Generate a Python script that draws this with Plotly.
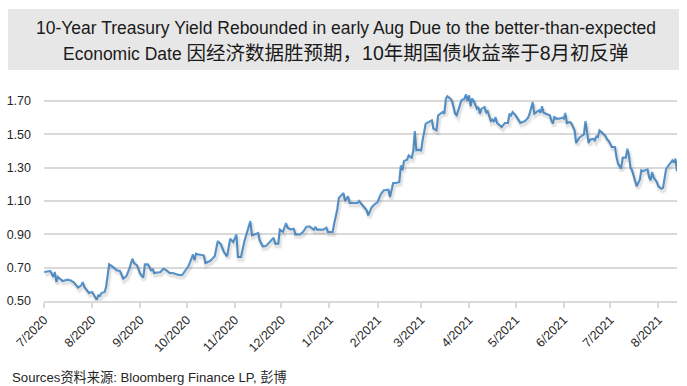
import plotly.graph_objects as go
import datetime as dt

# ---- data ----
dates = [
"2020-07-01","2020-07-05","2020-07-06","2020-07-07","2020-07-08","2020-07-09","2020-07-10","2020-07-12","2020-07-13","2020-07-16","2020-07-18","2020-07-20","2020-07-22","2020-07-23","2020-07-25","2020-07-26","2020-07-27","2020-07-30",
"2020-08-01","2020-08-02","2020-08-04","2020-08-05","2020-08-06","2020-08-07","2020-08-09","2020-08-10","2020-08-12","2020-08-14","2020-08-17","2020-08-19","2020-08-21","2020-08-23","2020-08-25","2020-08-27","2020-08-28","2020-08-30",
"2020-09-01","2020-09-03","2020-09-04","2020-09-06","2020-09-08","2020-09-09","2020-09-10","2020-09-14","2020-09-16","2020-09-18","2020-09-20","2020-09-22","2020-09-24","2020-09-26","2020-09-28","2020-09-30",
"2020-10-02","2020-10-04","2020-10-05","2020-10-06","2020-10-07","2020-10-08","2020-10-12","2020-10-13","2020-10-16","2020-10-19","2020-10-21","2020-10-23","2020-10-25","2020-10-27","2020-10-29","2020-10-31",
"2020-11-02","2020-11-03","2020-11-05","2020-11-07","2020-11-09","2020-11-11","2020-11-12","2020-11-14","2020-11-16","2020-11-17","2020-11-19","2020-11-21","2020-11-24","2020-11-26","2020-11-27","2020-11-29","2020-11-30",
"2020-12-02","2020-12-04","2020-12-05","2020-12-07","2020-12-09","2020-12-10","2020-12-13","2020-12-15","2020-12-17","2020-12-19","2020-12-21","2020-12-22","2020-12-23","2020-12-24","2020-12-28","2020-12-30","2020-12-31",
"2021-01-03","2021-01-04","2021-01-06","2021-01-07","2021-01-10","2021-01-11","2021-01-13","2021-01-14","2021-01-16","2021-01-19","2021-01-20","2021-01-22","2021-01-25","2021-01-26","2021-01-28","2021-01-30",
"2021-02-01","2021-02-03","2021-02-05","2021-02-08","2021-02-09","2021-02-11","2021-02-13","2021-02-15","2021-02-16","2021-02-17","2021-02-18","2021-02-20","2021-02-21","2021-02-23","2021-02-24","2021-02-25","2021-02-26","2021-02-28",
"2021-03-01","2021-03-02","2021-03-04","2021-03-06","2021-03-08","2021-03-09","2021-03-11","2021-03-12","2021-03-14","2021-03-15","2021-03-16","2021-03-17","2021-03-18","2021-03-20","2021-03-21","2021-03-23","2021-03-24","2021-03-25","2021-03-26","2021-03-27","2021-03-29","2021-03-30","2021-03-31",
"2021-04-01","2021-04-02","2021-04-03","2021-04-04","2021-04-05","2021-04-06","2021-04-07","2021-04-08","2021-04-09","2021-04-11","2021-04-12","2021-04-13","2021-04-15","2021-04-16","2021-04-17","2021-04-18","2021-04-19","2021-04-22","2021-04-24","2021-04-26","2021-04-27","2021-04-28","2021-04-29",
"2021-05-01","2021-05-03","2021-05-04","2021-05-07","2021-05-09","2021-05-10","2021-05-12","2021-05-13","2021-05-14","2021-05-16","2021-05-17","2021-05-18","2021-05-19","2021-05-21","2021-05-23","2021-05-24","2021-05-25","2021-05-26","2021-05-27","2021-05-29","2021-05-31",
"2021-06-01","2021-06-02","2021-06-03","2021-06-05","2021-06-06","2021-06-08","2021-06-09","2021-06-10","2021-06-11","2021-06-13","2021-06-14","2021-06-15","2021-06-16","2021-06-17","2021-06-18","2021-06-20","2021-06-21","2021-06-22","2021-06-23","2021-06-24","2021-06-26","2021-06-28","2021-06-29","2021-06-30",
"2021-07-02","2021-07-04","2021-07-05","2021-07-06","2021-07-08","2021-07-09","2021-07-11","2021-07-12","2021-07-13","2021-07-14","2021-07-15","2021-07-17","2021-07-18","2021-07-20","2021-07-21","2021-07-22","2021-07-24","2021-07-25","2021-07-26","2021-07-27","2021-07-28","2021-07-29","2021-07-31",
"2021-08-01","2021-08-03","2021-08-04","2021-08-06","2021-08-08","2021-08-10","2021-08-11","2021-08-12","2021-08-13",
]

yields = [
# Jul 2020
0.674,0.68,0.664,0.644,0.674,0.614,0.644,0.628,0.62,0.628,0.624,0.614,0.594,0.58,0.594,0.614,0.584,0.548,
# Aug 2020
0.554,0.54,0.508,0.534,0.53,0.548,0.554,0.584,0.72,0.708,0.684,0.68,0.634,0.648,0.694,0.754,0.728,0.714,
# Sep 2020
0.664,0.64,0.72,0.72,0.684,0.69,0.668,0.674,0.694,0.684,0.668,0.668,0.66,0.656,0.656,0.684,
# Oct 2020
0.708,0.754,0.78,0.744,0.784,0.78,0.774,0.728,0.74,0.768,0.86,0.84,0.794,0.768,0.874,0.854,
# Nov 2020
0.9,0.764,0.764,0.854,0.924,0.98,0.894,0.9,0.908,0.864,0.828,0.83,0.864,0.88,0.844,0.844,0.928,
# Dec 2020
0.915,0.968,0.94,0.93,0.934,0.9,0.9,0.915,0.944,0.948,0.935,0.928,0.945,0.928,0.928,0.94,0.914,
# Jan 2021
0.914,0.964,1.048,1.118,1.148,1.10,1.128,1.088,1.088,1.088,1.10,1.08,1.044,1.014,1.06,1.08,
# Feb 2021
1.094,1.14,1.164,1.168,1.124,1.208,1.208,1.214,1.314,1.284,1.34,1.348,1.374,1.36,1.40,1.52,1.404,1.408,
# Mar 2021
1.40,1.464,1.564,1.574,1.584,1.534,1.524,1.614,1.624,1.634,1.624,1.714,1.728,1.714,1.70,1.624,1.614,1.644,1.674,1.704,1.714,1.74,1.70,
# Apr 2021
1.734,1.668,1.714,1.70,1.68,1.654,1.664,1.624,1.654,1.664,1.628,1.638,1.58,1.588,1.574,1.604,1.568,1.544,1.568,1.568,1.624,1.614,1.634,
# May 2021
1.614,1.584,1.568,1.58,1.60,1.624,1.694,1.624,1.63,1.644,1.63,1.668,1.63,1.624,1.614,1.584,1.564,1.608,1.594,1.594,1.60,
# Jun 2021
1.594,1.628,1.568,1.574,1.564,1.524,1.448,1.464,1.48,1.494,1.50,1.58,1.508,1.448,1.468,1.474,1.464,1.488,1.484,1.524,1.508,1.488,1.468,1.46,
# Jul 2021
1.424,1.424,1.364,1.324,1.294,1.36,1.36,1.414,1.374,1.30,1.285,1.224,1.188,1.228,1.284,1.28,1.29,1.29,1.244,1.224,1.274,1.24,1.214,
# Aug 2021
1.188,1.174,1.18,1.294,1.32,1.344,1.33,1.354,1.28,
]

y_ticks = [0.50, 0.70, 0.90, 1.10, 1.30, 1.50, 1.70]
x_ticks = ["2020-07-01","2020-08-01","2020-09-01","2020-10-01","2020-11-01","2020-12-01",
           "2021-01-01","2021-02-01","2021-03-01","2021-04-01","2021-05-01","2021-06-01",
           "2021-07-01","2021-08-01"]
x_ticklabels = ["7/2020","8/2020","9/2020","10/2020","11/2020","12/2020","1/2021",
                "2/2021","3/2021","4/2021","5/2021","6/2021","7/2021","8/2021"]

title_line1 = "10-Year Treasury Yield Rebounded in early Aug Due to the better-than-expected"
title_line2_en = "Economic Date "
title_line2_zh = "因经济数据胜预期，10年期国债收益率于8月初反弹"
source_text = "Sources资料来源: Bloomberg Finance LP, 彭博"

assert len(dates) == len(yields)

# ---- layout geometry (pixels) ----
W, H = 687, 386
L, R, T, B = 44, 10, 91, 85
pw, ph = W - L - R, H - T - B
YMIN, YMAX = 0.50, 1.76
X0, X1 = "2020-07-01", "2021-08-13"
shadow_dy = 2.5 * (YMAX - YMIN) / ph
_d0 = dt.datetime(2020, 7, 1); _d1 = dt.datetime(2021, 8, 13)
_shift = (_d1 - _d0) * (1.2 / pw)
X0s = (_d0 - _shift).strftime("%Y-%m-%d %H:%M:%S")
X1s = (_d1 - _shift).strftime("%Y-%m-%d %H:%M:%S")

def px(x):
    return (x - L) / pw

def py(y):
    return (H - B - y) / ph

FONT = "Liberation Sans, Arial, Noto Sans CJK SC, sans-serif"

fig = go.Figure()

# soft shadow under the line
for wdt, alpha in [(6, 0.04), (3.5, 0.07)]:
    fig.add_trace(go.Scatter(x=dates, y=yields, mode="lines", xaxis="x2", yaxis="y2",
                             line=dict(color=f"rgba(0,0,0,{alpha})", width=wdt),
                             hoverinfo="skip", showlegend=False))
fig.add_trace(go.Scatter(x=dates, y=yields, mode="lines",
                         line=dict(color="#5B9BD5", width=2.1),
                         showlegend=False, name="10Y"))

fig.update_layout(
    width=W, height=H,
    margin=dict(l=L, r=R, t=T, b=B, autoexpand=False),
    paper_bgcolor="white", plot_bgcolor="white",
    showlegend=False,
    xaxis=dict(
        range=[X0, X1], automargin=False,
        tickmode="array", tickvals=x_ticks, ticktext=x_ticklabels,
        tickangle=-45, showgrid=False, zeroline=False,
        showline=True, linecolor="#d9d9d9", linewidth=1.5,
        ticks="outside", ticklen=5, tickcolor="#d9d9d9", tickwidth=1.5,
        tickfont=dict(family=FONT, size=12.5, color="#262626"),
    ),
    xaxis2=dict(range=[X0s, X1s], overlaying="x", visible=False, showgrid=False),
    yaxis=dict(
        range=[YMIN, YMAX], automargin=False,
        tickmode="array", tickvals=y_ticks, ticktext=[f"{v:.2f}" for v in y_ticks],
        showgrid=True, gridcolor="#d9d9d9", gridwidth=1.5,
        zeroline=False, showline=False, ticks="",
        ticklabelstandoff=12,
        tickfont=dict(family=FONT, size=12.5, color="#262626"),
    ),
    yaxis2=dict(range=[YMIN + shadow_dy, YMAX + shadow_dy], overlaying="y",
                visible=False, showgrid=False),
)

# title box
fig.add_shape(type="rect", xref="paper", yref="paper",
              x0=px(8), x1=px(679), y0=py(70), y1=py(9),
              fillcolor="#e7e7e7", line=dict(width=0), layer="below")
fig.add_annotation(xref="paper", yref="paper", x=px(346), y=py(28),
                   text=title_line1, showarrow=False, xanchor="center", yanchor="middle",
                   font=dict(family=FONT, size=17.5, color="#1a1a1a"))
fig.add_annotation(xref="paper", yref="paper", x=px(346), y=py(53),
                   text=title_line2_en + '<span style="font-size:19.5px">' + title_line2_zh + "</span>",
                   showarrow=False, xanchor="center", yanchor="middle",
                   font=dict(family=FONT, size=17.5, color="#1a1a1a"))
# source
fig.add_annotation(xref="paper", yref="paper", x=px(10), y=py(377),
                   text=source_text, showarrow=False, xanchor="left", yanchor="middle",
                   font=dict(family=FONT, size=13.2, color="#262626"))

fig.write_html("out.html", config={"displayModeBar": False},
               post_script="document.body.style.margin='0';document.body.style.padding='0';")
